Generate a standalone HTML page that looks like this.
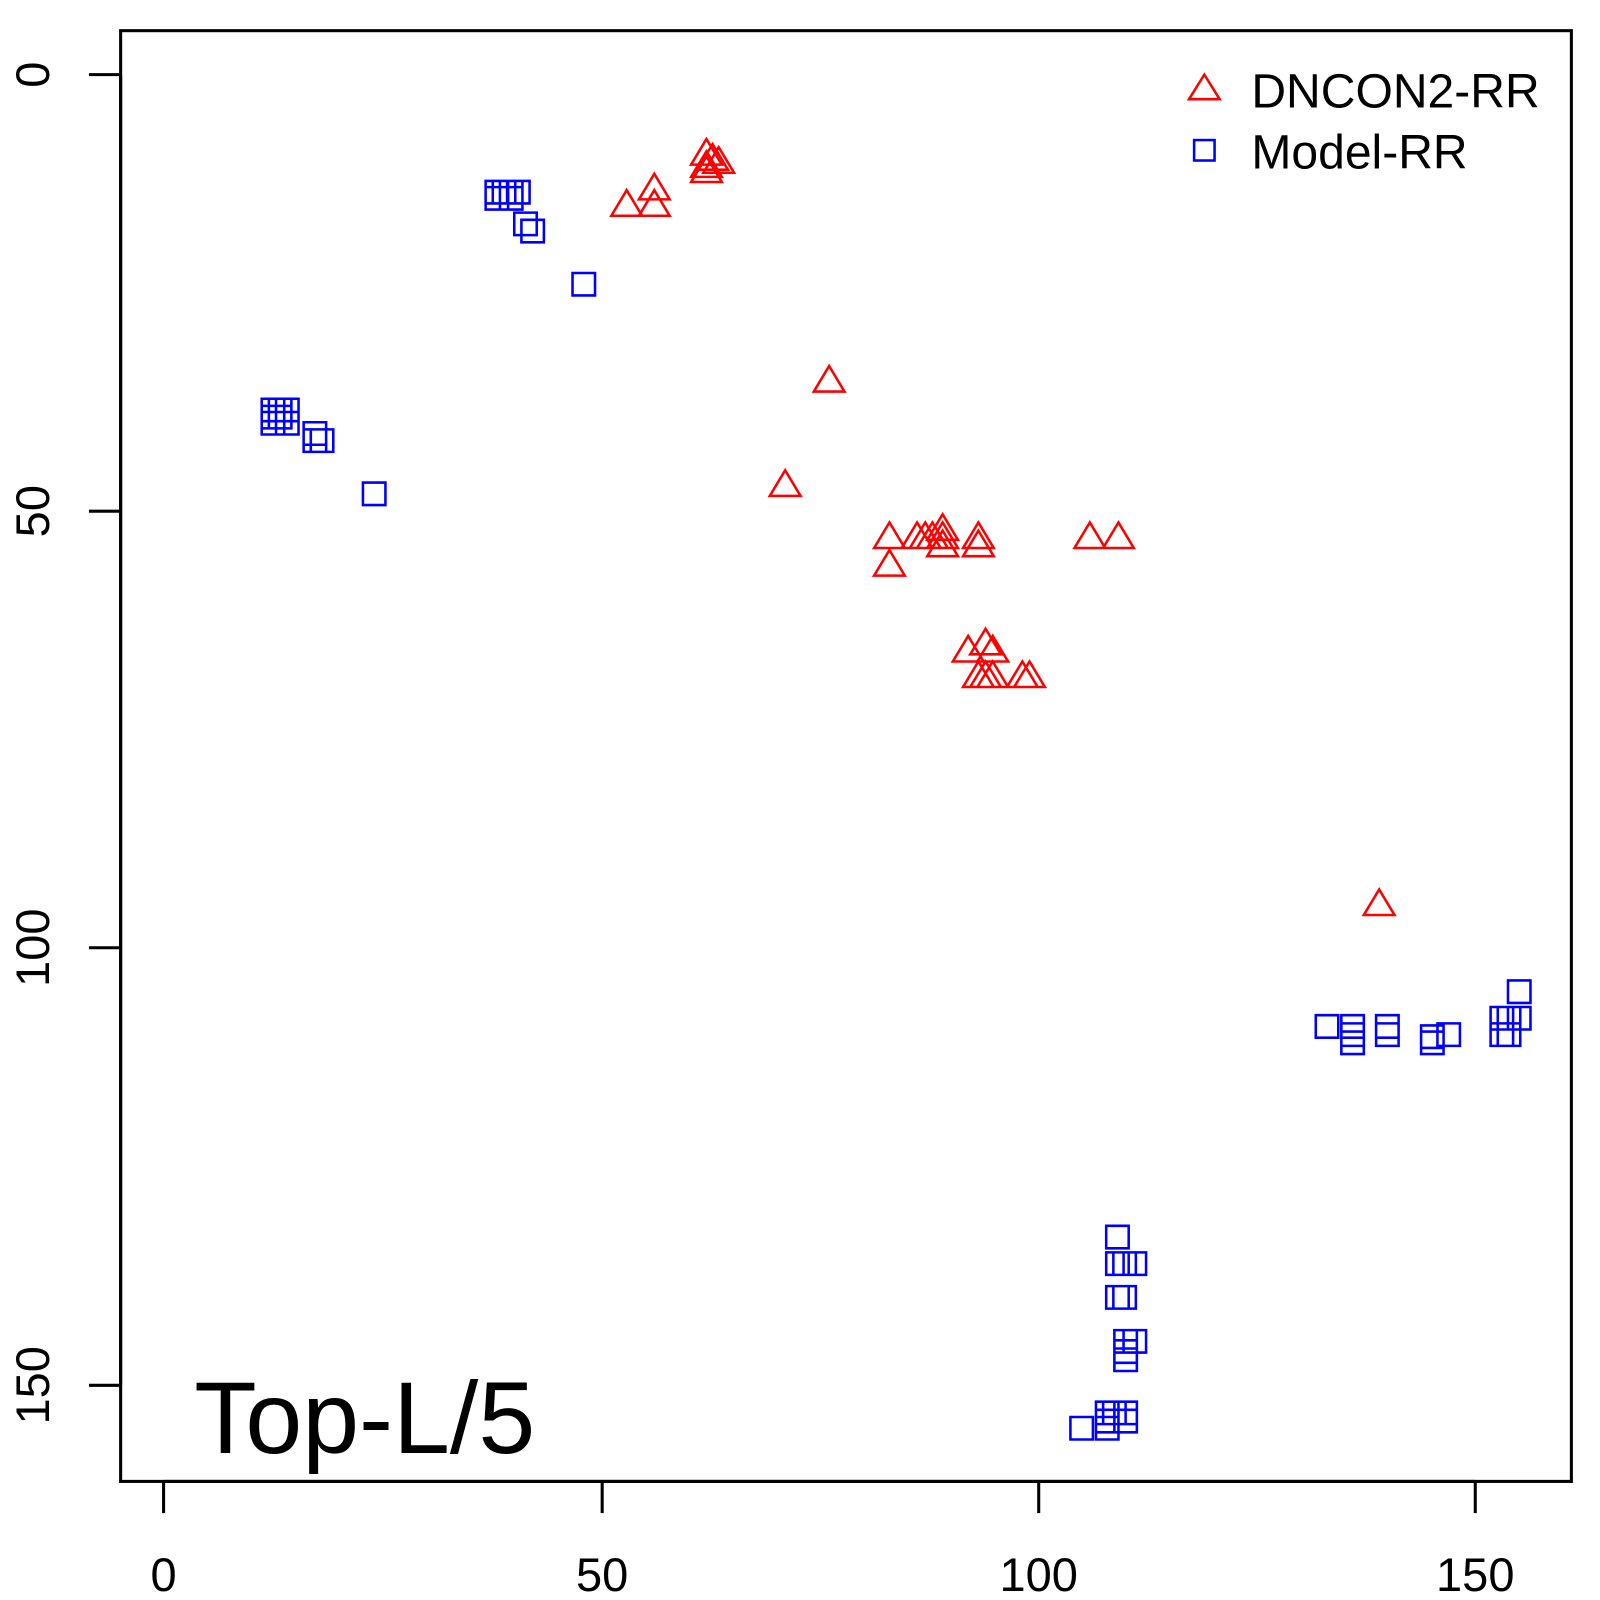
<!DOCTYPE html>
<html><head><style>html,body{margin:0;padding:0;background:#fff}svg{display:block}</style></head>
<body>
<svg width="1600" height="1600" viewBox="0 0 1565 1565" xmlns="http://www.w3.org/2000/svg" font-family="Liberation Sans, sans-serif">
<rect x="0" y="0" width="1565" height="1565" fill="#fff"/>
<rect x="118" y="30" width="1419" height="1419" fill="none" stroke="#000" stroke-width="3"/>
<g stroke="#000" stroke-width="3">
<line x1="160" y1="1449" x2="1443" y2="1449"/>
<line x1="160" y1="1449" x2="160" y2="1480"/>
<line x1="589" y1="1449" x2="589" y2="1480"/>
<line x1="1016" y1="1449" x2="1016" y2="1480"/>
<line x1="1443" y1="1449" x2="1443" y2="1480"/>
<line x1="118" y1="73" x2="118" y2="1355"/>
<line x1="87" y1="73" x2="118" y2="73"/>
<line x1="87" y1="500" x2="118" y2="500"/>
<line x1="87" y1="927" x2="118" y2="927"/>
<line x1="87" y1="1355" x2="118" y2="1355"/>
</g>
<g font-size="46" text-anchor="middle" fill="#000">
<text x="160" y="1556">0</text>
<text x="589" y="1556">50</text>
<text x="1016" y="1556">100</text>
<text x="1443" y="1556">150</text>
<text transform="translate(48,73) rotate(-90)">0</text>
<text transform="translate(48,500) rotate(-90)">50</text>
<text transform="translate(48,927) rotate(-90)">100</text>
<text transform="translate(48,1355) rotate(-90)">150</text>
</g>
<text x="190" y="1421" font-size="100" fill="#000">Top-L/5</text>
<path d="M1178,73 L1193,97 L1163,97 Z" fill="none" stroke="#f00" stroke-width="2.5"/>
<rect x="1168" y="137" width="20" height="20" fill="none" stroke="#00f" stroke-width="2.5"/>
<text x="1224" y="105" font-size="47" fill="#000">DNCON2-RR</text>
<text x="1224" y="165" font-size="47" fill="#000">Model-RR</text>
<g fill="none" stroke="#f00" stroke-width="2.5">
<path d="M691,136l15,25h-30z M697,141l15,25h-30z M703,144l15,25h-30z M691,148l15,25h-30z M691,153l15,25h-30z M640,170l15,25h-30z M613,186l15,25h-30z M640,186l15,25h-30z M811,358l15,25h-30z M768,460l15,25h-30z M870,511l15,25h-30z M897,511l15,25h-30z M905,511l15,25h-30z M912,511l15,25h-30z M922,503l15,25h-30z M922,511l15,25h-30z M922,519l15,25h-30z M957,511l15,25h-30z M957,519l15,25h-30z M1066,511l15,25h-30z M1094,511l15,25h-30z M870,538l15,25h-30z M964,615l15,25h-30z M947,622l15,25h-30z M971,622l15,25h-30z M957,647l15,25h-30z M964,647l15,25h-30z M971,647l15,25h-30z M1000,647l15,25h-30z M1007,647l15,25h-30z M1349,870l15,25h-30z"/>
</g>
<g fill="none" stroke="#00f" stroke-width="2.5">
<path d="M475,177h22v22h-22z M482,177h22v22h-22z M489,177h22v22h-22z M496,177h22v22h-22z M475,183h22v22h-22z M489,183h22v22h-22z M503,208h22v22h-22z M510,215h22v22h-22z M560,267h22v22h-22z M263,390h22v22h-22z M263,397h22v22h-22z M270,390h22v22h-22z M256,390h22v22h-22z M256,397h22v22h-22z M270,403h22v22h-22z M256,403h22v22h-22z M297,413h22v22h-22z M304,420h22v22h-22z M297,420h22v22h-22z M355,472h22v22h-22z M1287,993h22v22h-22z M1312,993h22v22h-22z M1312,1001h22v22h-22z M1312,1009h22v22h-22z M1346,993h22v22h-22z M1346,1001h22v22h-22z M1390,1003h22v22h-22z M1390,1009h22v22h-22z M1406,1001h22v22h-22z M1458,985h22v22h-22z M1458,1001h22v22h-22z M1465,985h22v22h-22z M1475,959h22v22h-22z M1475,985h22v22h-22z M1465,1001h22v22h-22z M1082,1199h22v22h-22z M1082,1225h22v22h-22z M1089,1225h22v22h-22z M1099,1225h22v22h-22z M1082,1258h22v22h-22z M1089,1258h22v22h-22z M1099,1301h22v22h-22z M1090,1301h22v22h-22z M1090,1311h22v22h-22z M1090,1319h22v22h-22z M1047,1386h22v22h-22z M1072,1386h22v22h-22z M1072,1371h22v22h-22z M1079,1371h22v22h-22z M1090,1371h22v22h-22z M1090,1379h22v22h-22z M1072,1379h22v22h-22z"/>
</g>
</svg>
</body></html>
